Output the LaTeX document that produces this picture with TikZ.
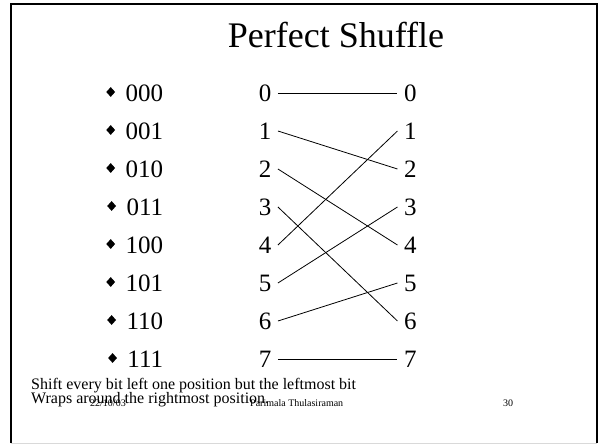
\documentclass[tikz,border=0pt]{standalone}
\usepackage{fontspec}
\setmainfont{Liberation Serif}
\usetikzlibrary{positioning, shapes.geometric}
\tikzset{
  title/.style={font=\fontsize{36}{40}\selectfont, inner sep=0pt, anchor=base},
  dig/.style={font=\fontsize{25}{28}\selectfont, inner xsep=6.5pt, inner ysep=0pt,
    text height=17pt, text depth=0pt},
  item/.style={font=\fontsize{25}{28}\selectfont, inner sep=0pt,
    text height=17pt, text depth=0pt},
  bul/.style={diamond, fill=black, inner sep=0pt,
    minimum width=9pt, minimum height=10pt},
  note/.style={font=\fontsize{16}{18}\selectfont, inner sep=0pt, anchor=base west},
  foot/.style={font=\fontsize{10}{12}\selectfont, inner sep=0pt, anchor=base west},
  wire/.style={line width=0.8pt, black},
}

\begin{document}
\begin{tikzpicture}[x=1pt, y=-1pt, node distance=20.6pt and 119.5pt]
\useasboundingbox (0,0) rectangle (600,444);

%% ── slide frame ───────────────────────────────────────────
\draw[gray!30, line width=0.6pt] (11,443) -- (597,443);
\draw[line width=2pt] (11,443) -- (11,4.5) -- (597,4.5) -- (597,443);

\node[title] (head) at (336,48) {Perfect Shuffle};

%% ── source column ─────────────────────────────────────────
\node[dig] (l0) at (265,93) {0};
\node[dig, below=of l0] (l1) {1};
\node[dig, below=of l1] (l2) {2};
\node[dig, below=of l2] (l3) {3};
\node[dig, below=of l3] (l4) {4};
\node[dig, below=of l4] (l5) {5};
\node[dig, below=of l5] (l6) {6};
\node[dig, below=of l6] (l7) {7};

%% ── target column ─────────────────────────────────────────
\node[dig, right=of l0] (r0) {0};
\node[dig, right=of l1] (r1) {1};
\node[dig, right=of l2] (r2) {2};
\node[dig, right=of l3] (r3) {3};
\node[dig, right=of l4] (r4) {4};
\node[dig, right=of l5] (r5) {5};
\node[dig, right=of l6] (r6) {6};
\node[dig, right=of l7] (r7) {7};

%% ── binary labels ─────────────────────────────────────────
\node[item, left=88.75pt of l0] (c0) {000};
\node[item, left=88.75pt of l1] (c1) {001};
\node[item, left=88.75pt of l2] (c2) {010};
\node[item, left=88.75pt of l3] (c3) {011};
\node[item, left=88.75pt of l4] (c4) {100};
\node[item, left=88.75pt of l5] (c5) {101};
\node[item, left=88.75pt of l6] (c6) {110};
\node[item, left=88.75pt of l7] (c7) {111};

\node[bul, left=10pt of c0, yshift=1pt] (b0) {};
\node[bul, left=10pt of c1, yshift=1pt] (b1) {};
\node[bul, left=10pt of c2, yshift=1pt] (b2) {};
\node[bul, left=10pt of c3, yshift=1pt] (b3) {};
\node[bul, left=10pt of c4, yshift=1pt] (b4) {};
\node[bul, left=10pt of c5, yshift=1pt] (b5) {};
\node[bul, left=10pt of c6, yshift=1pt] (b6) {};
\node[bul, left=10pt of c7, yshift=1pt] (b7) {};

%% ── shuffle wires ─────────────────────────────────────────
\draw[wire] (l0.east) -- (r0.west);
\draw[wire] (l1.east) -- (r2.west);
\draw[wire] (l2.east) -- (r4.west);
\draw[wire] (l3.east) -- (r6.west);
\draw[wire] (l4.east) -- (r1.west);
\draw[wire] (l5.east) -- (r3.west);
\draw[wire] (l6.east) -- (r5.west);
\draw[wire] (l7.east) -- (r7.west);

%% ── caption and footer ────────────────────────────────────
\node[note] (n1) at (31,389) {Shift every bit left one position but the leftmost bit};
\node[note] (n2) at (31,403) {Wraps around the rightmost position.};
\node[foot] (date) at (90,406.5) {22/10/03};
\node[foot] (auth) at (250,406.5) {Parimala Thulasiraman};
\node[foot] (page) at (503,406.5) {30};

\end{tikzpicture}
\end{document}
